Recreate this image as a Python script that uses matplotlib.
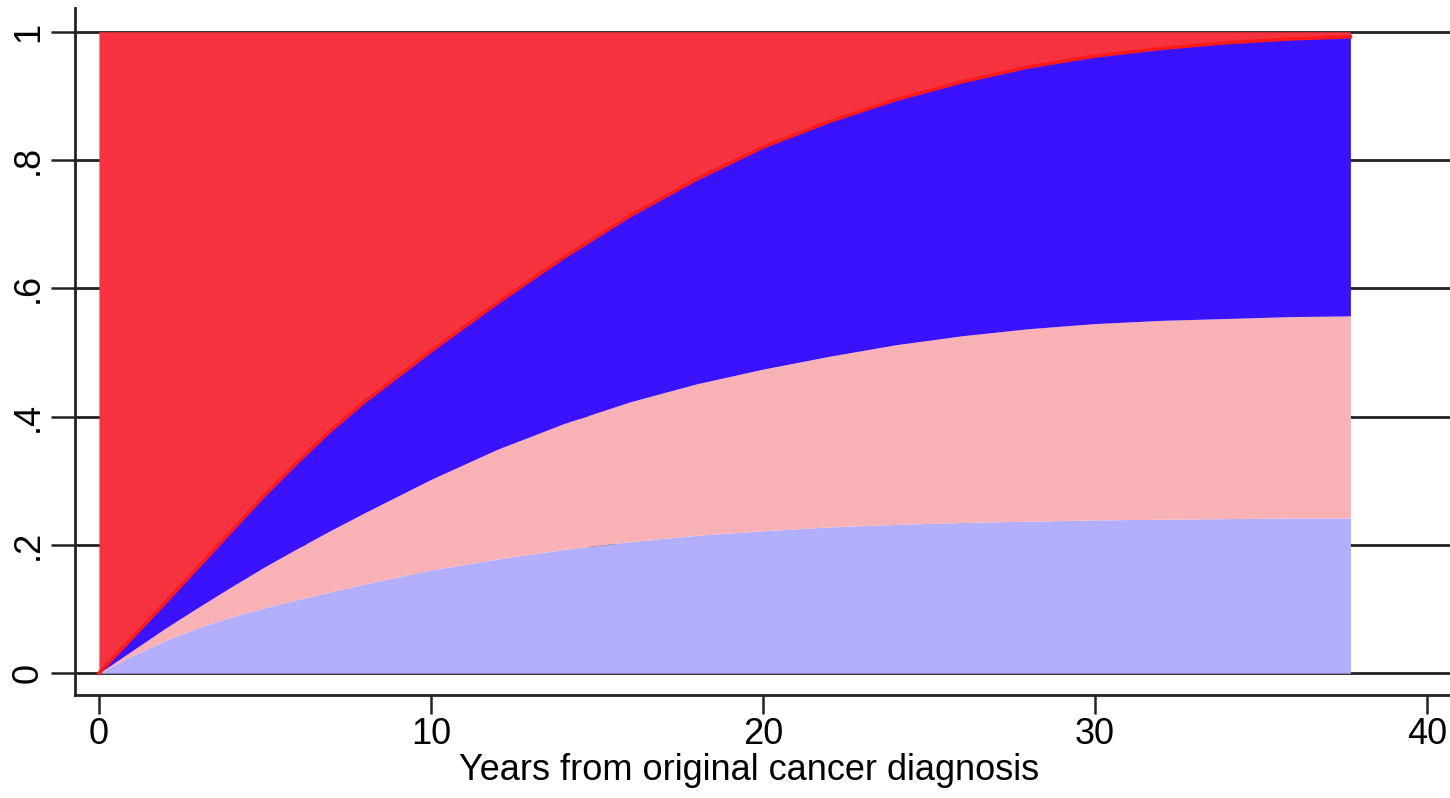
import numpy as np
import matplotlib.pyplot as plt

plt.rcParams['font.family'] = ['Liberation Sans', 'DejaVu Sans']

# years since diagnosis and the cumulative boundaries of the stacked bands
years = [0, 1, 2, 3, 4, 5, 6, 7, 8, 10, 12, 14, 16, 18, 20, 22, 24, 26, 28, 30, 32, 34, 36, 37.7]
lightblue_top = [0, 0.027, 0.051, 0.071, 0.088, 0.102, 0.115, 0.127, 0.139, 0.161, 0.178, 0.193,
                 0.205, 0.215, 0.222, 0.228, 0.232, 0.235, 0.237, 0.239, 0.240, 0.241, 0.242, 0.242]
pink_top = [0, 0.035, 0.07, 0.103, 0.135, 0.166, 0.195, 0.223, 0.25, 0.302, 0.349, 0.389,
            0.423, 0.451, 0.474, 0.494, 0.512, 0.526, 0.537, 0.545, 0.55, 0.553, 0.556, 0.557]
blue_top = [0, 0.055, 0.11, 0.166, 0.222, 0.278, 0.33, 0.379, 0.423, 0.502, 0.577, 0.648,
            0.713, 0.77, 0.82, 0.86, 0.894, 0.922, 0.945, 0.962, 0.974, 0.983, 0.989, 0.992]
total = [1.0] * len(years)

c_lightblue = '#b2b0fe'
c_pink = '#f8b1b4'
c_blue = '#3a12fd'
c_red = '#f5323d'

fig = plt.figure(figsize=(14.5, 7.98), dpi=100)
ax = fig.add_axes([75 / 1450, 103 / 798, 1375 / 1450, 687 / 798])

x = np.array(years)
zeros = np.zeros(len(years))
ax.fill_between(x, zeros, lightblue_top, color=c_lightblue, lw=0, zorder=2)
ax.fill_between(x, lightblue_top, pink_top, color=c_pink, lw=0, zorder=2)
ax.fill_between(x, pink_top, blue_top, color=c_blue, lw=0, zorder=2)
ax.fill_between(x, blue_top, total, color=c_red, lw=0, zorder=2)
ax.plot(x, blue_top, color='#ff1a1a', lw=2.5, zorder=3)

# horizontal grid running behind the bands
for yv in [0, 0.2, 0.4, 0.6, 0.8, 1.0]:
    ax.axhline(yv, color='#222222', lw=2, zorder=1)

ax.set_xlim(-0.72, 40.7)
ax.set_ylim(-0.034, 1.037)

ax.set_xticks([0, 10, 20, 30, 40])
ax.set_yticks([0, 0.2, 0.4, 0.6, 0.8, 1.0])
ax.set_yticklabels(['0', '.2', '.4', '.6', '.8', '1'], rotation=90, va='center')
ax.tick_params(axis='both', labelsize=26, width=1.8, color='#222222', direction='out')
ax.tick_params(axis='x', length=14, pad=2)
ax.tick_params(axis='y', length=17, pad=4)

for side in ['top', 'right']:
    ax.spines[side].set_visible(False)
for side in ['left', 'bottom']:
    ax.spines[side].set_linewidth(2)
    ax.spines[side].set_color('#222222')

ax.set_xlabel('Years from original cancer diagnosis', fontsize=26)
ax.xaxis.set_label_coords((749 - 75) / 1375, -0.085)

fig.savefig('out.png', dpi=100)
